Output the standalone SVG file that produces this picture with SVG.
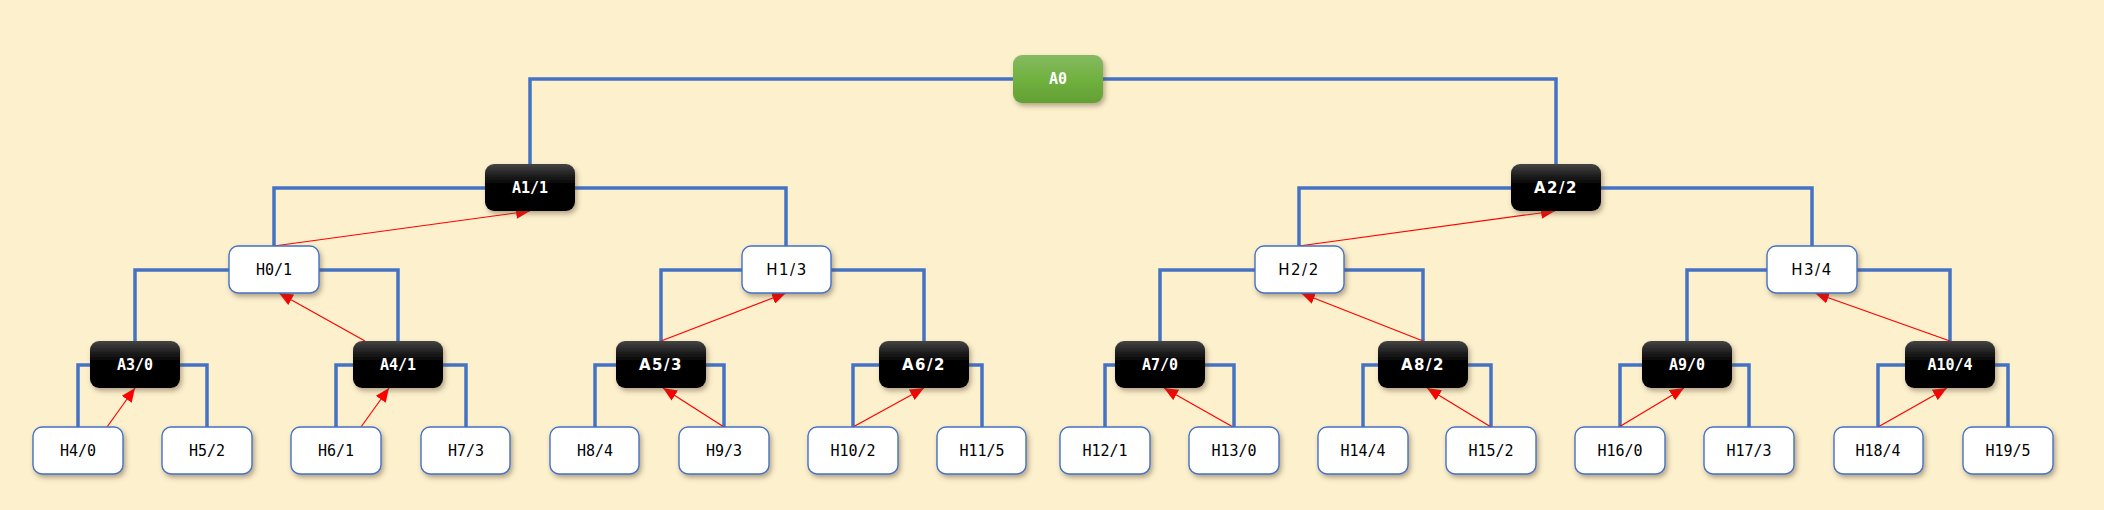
<svg xmlns="http://www.w3.org/2000/svg" width="2104" height="510" viewBox="0 0 2104 510">
<defs>
<linearGradient id="gBlack" x1="0" y1="0" x2="0" y2="1">
<stop offset="0" stop-color="#444"/>
<stop offset="0.45" stop-color="#000"/>
<stop offset="1" stop-color="#000"/>
</linearGradient>
<linearGradient id="gGreen" x1="0" y1="0" x2="0" y2="1">
<stop offset="0" stop-color="#86ba62"/>
<stop offset="0.5" stop-color="#70b13f"/>
<stop offset="1" stop-color="#62a035"/>
</linearGradient>
<filter id="sh" x="-20%" y="-20%" width="150%" height="160%">
<feDropShadow dx="2" dy="3" stdDeviation="2.5" flood-color="#5a4a30" flood-opacity="0.45"/>
</filter>
<marker id="ah" viewBox="0 0 14 12" refX="14" refY="6" markerWidth="14" markerHeight="12" markerUnits="userSpaceOnUse" orient="auto">
<path d="M0,0 L14,6 L0,12 Z" fill="#ff0000"/>
</marker>
</defs>
<style>
.bg{fill:#fdf0cd}
.tree{fill:none;stroke:#4472c4;stroke-width:3.5}
.up{fill:none;stroke:#ff0000;stroke-width:1.2;marker-end:url(#ah)}
.h rect{fill:#ffffff;stroke:#4472c4;stroke-width:1.4;filter:url(#sh)}
.a rect{fill:url(#gBlack);filter:url(#sh)}
.g rect{fill:url(#gGreen);filter:url(#sh)}
text{font-family:"DejaVu Sans Mono","Liberation Mono",monospace;font-size:15px;text-anchor:middle}
.h text{fill:#000}
.a text,.g text{fill:#fff;font-weight:bold}
text.s{font-family:"DejaVu Sans","Liberation Sans",sans-serif;letter-spacing:1.5px}
</style>
<rect class="bg" x="0" y="0" width="2104" height="510"/>
<g id="connectors">
<path class="tree" d="M1013,79 H530 V164 M1103,79 H1556 V164"/>
<path class="tree" d="M486,188 H274 V246 M574,188 H786 V246 M1511,188 H1299 V246 M1601,188 H1812 V246"/>
<path class="tree" d="M229,270 H135 V341 M319,270 H398 V341 M742,270 H661 V341 M831,270 H924 V341 M1255,270 H1160 V341 M1343,270 H1423 V341 M1767,270 H1687 V341 M1857,270 H1950 V341"/>
<path class="tree" d="M90,365 H78 V427 M180,365 H207 V427 M353,365 H336 V427 M443,365 H466 V427 M616,365 H595 V427 M706,365 H724 V427 M879,365 H853 V427 M969,365 H982 V427 M1115,365 H1105 V427 M1205,365 H1234 V427 M1378,365 H1363 V427 M1468,365 H1491 V427 M1642,365 H1620 V427 M1732,365 H1749 V427 M1905,365 H1878 V427 M1995,365 H2008 V427"/>
<path class="up" d="M274,246 L530,211"/>
<path class="up" d="M365,341 L279,293"/>
<path class="up" d="M107,427 L135,388"/>
<path class="up" d="M361,427 L389,388"/>
<path class="up" d="M661,341 L786,293"/>
<path class="up" d="M724,427 L663,388"/>
<path class="up" d="M853,427 L924,388"/>
<path class="up" d="M1299,246 L1555,211"/>
<path class="up" d="M1423,341 L1301,293"/>
<path class="up" d="M1233,427 L1164,388"/>
<path class="up" d="M1491,427 L1427,388"/>
<path class="up" d="M1619,427 L1684,388"/>
<path class="up" d="M1950,341 L1815,293"/>
<path class="up" d="M1878,427 L1947,388"/>
</g>
<g id="A0" class="g"><rect x="1013" y="55" width="90" height="48" rx="9"/><text x="1058" y="84">A0</text></g>
<g id="A1" class="a"><rect x="485" y="164" width="90" height="47" rx="9"/><text x="530" y="193">A1/1</text></g>
<g id="A2" class="a"><rect x="1511" y="164" width="90" height="47" rx="9"/><text class="s" x="1556" y="193">A2/2</text></g>
<g id="H0" class="h"><rect x="229" y="246" width="90" height="47" rx="9"/><text x="274" y="275">H0/1</text></g>
<g id="H1" class="h"><rect x="742" y="246" width="89" height="47" rx="9"/><text class="s" x="787" y="275">H1/3</text></g>
<g id="H2" class="h"><rect x="1255" y="246" width="89" height="47" rx="9"/><text class="s" x="1299" y="275">H2/2</text></g>
<g id="H3" class="h"><rect x="1767" y="246" width="90" height="47" rx="9"/><text class="s" x="1812" y="275">H3/4</text></g>
<g id="A3" class="a"><rect x="90" y="341" width="90" height="47" rx="9"/><text x="135" y="370">A3/0</text></g>
<g id="A4" class="a"><rect x="353" y="341" width="90" height="47" rx="9"/><text x="398" y="370">A4/1</text></g>
<g id="A5" class="a"><rect x="616" y="341" width="90" height="47" rx="9"/><text class="s" x="661" y="370">A5/3</text></g>
<g id="A6" class="a"><rect x="879" y="341" width="90" height="47" rx="9"/><text class="s" x="924" y="370">A6/2</text></g>
<g id="A7" class="a"><rect x="1115" y="341" width="90" height="47" rx="9"/><text x="1160" y="370">A7/0</text></g>
<g id="A8" class="a"><rect x="1378" y="341" width="90" height="47" rx="9"/><text class="s" x="1423" y="370">A8/2</text></g>
<g id="A9" class="a"><rect x="1642" y="341" width="90" height="47" rx="9"/><text x="1687" y="370">A9/0</text></g>
<g id="A10" class="a"><rect x="1905" y="341" width="90" height="47" rx="9"/><text x="1950" y="370">A10/4</text></g>
<g id="H4" class="h"><rect x="33" y="427" width="90" height="47" rx="9"/><text x="78" y="456">H4/0</text></g>
<g id="H5" class="h"><rect x="162" y="427" width="90" height="47" rx="9"/><text x="207" y="456">H5/2</text></g>
<g id="H6" class="h"><rect x="291" y="427" width="90" height="47" rx="9"/><text x="336" y="456">H6/1</text></g>
<g id="H7" class="h"><rect x="421" y="427" width="89" height="47" rx="9"/><text x="466" y="456">H7/3</text></g>
<g id="H8" class="h"><rect x="550" y="427" width="89" height="47" rx="9"/><text x="595" y="456">H8/4</text></g>
<g id="H9" class="h"><rect x="679" y="427" width="90" height="47" rx="9"/><text x="724" y="456">H9/3</text></g>
<g id="H10" class="h"><rect x="808" y="427" width="90" height="47" rx="9"/><text x="853" y="456">H10/2</text></g>
<g id="H11" class="h"><rect x="937" y="427" width="89" height="47" rx="9"/><text x="982" y="456">H11/5</text></g>
<g id="H12" class="h"><rect x="1060" y="427" width="90" height="47" rx="9"/><text x="1105" y="456">H12/1</text></g>
<g id="H13" class="h"><rect x="1189" y="427" width="90" height="47" rx="9"/><text x="1234" y="456">H13/0</text></g>
<g id="H14" class="h"><rect x="1318" y="427" width="90" height="47" rx="9"/><text x="1363" y="456">H14/4</text></g>
<g id="H15" class="h"><rect x="1446" y="427" width="90" height="47" rx="9"/><text x="1491" y="456">H15/2</text></g>
<g id="H16" class="h"><rect x="1575" y="427" width="90" height="47" rx="9"/><text x="1620" y="456">H16/0</text></g>
<g id="H17" class="h"><rect x="1704" y="427" width="90" height="47" rx="9"/><text x="1749" y="456">H17/3</text></g>
<g id="H18" class="h"><rect x="1834" y="427" width="89" height="47" rx="9"/><text x="1878" y="456">H18/4</text></g>
<g id="H19" class="h"><rect x="1963" y="427" width="90" height="47" rx="9"/><text x="2008" y="456">H19/5</text></g>
</svg>
